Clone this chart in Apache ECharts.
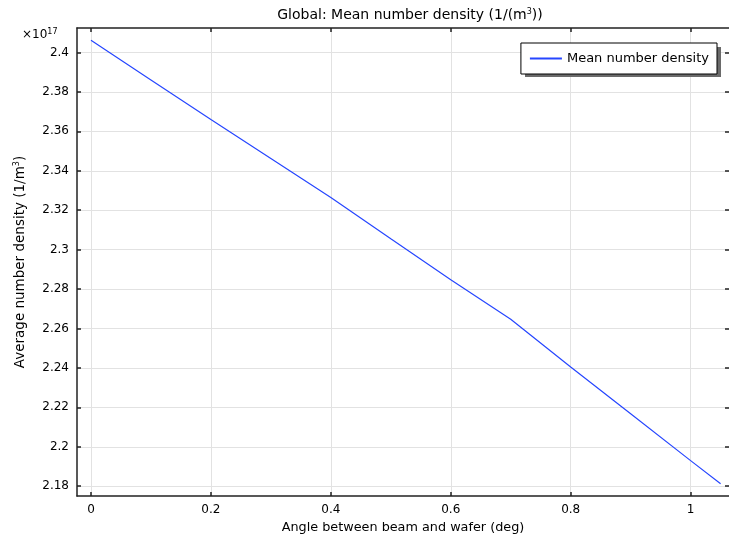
<!DOCTYPE html>
<html>
<head>
<meta charset="utf-8">
<script src="https://cdn.jsdelivr.net/npm/echarts@6/dist/echarts.min.js"></script>
<style>
  * { margin: 0; padding: 0; }
  body { background: #fff; }
  #chart { width: 729px; height: 539px; }
</style>
</head>
<body>
<div id="chart"></div>
<script>
// angle (deg) and mean number density (x1e17 1/m^3)
const angle = [0, 0.1, 0.2, 0.3, 0.4, 0.5, 0.6, 0.7, 0.8, 0.9, 1.0, 1.05]
const density = [2.4062, 2.386, 2.366, 2.3462, 2.3264, 2.3055, 2.2847, 2.2647, 2.2405, 2.2168, 2.193, 2.1813]
const xTicks = [0, 0.2, 0.4, 0.6, 0.8, 1]
const yTicks = [2.18, 2.2, 2.22, 2.24, 2.26, 2.28, 2.3, 2.32, 2.34, 2.36, 2.38, 2.4]

const font = 'DejaVu Sans'
const xMin = -0.0233
const xMax = 1.064
const yMin = 2.175
const yMax = 2.4124

const chart = echarts.init(document.getElementById('chart'))

const sup = { fontSize: 8, verticalAlign: 'top', padding: [0, 0, 6, 0], fontFamily: font }
const frame = { show: true, onZero: false, lineStyle: { color: '#222', width: 1.5 } }

chart.setOption({
  animation: false,
  textStyle: { fontFamily: font },
  title: {
    text: 'Global: Mean number density (1/(m{sup|3}))',
    left: 405,
    textAlign: 'center',
    top: 3,
    textStyle: {
      fontFamily: font,
      fontSize: 14,
      fontWeight: 'normal',
      color: '#000',
      rich: { sup: sup }
    }
  },
  legend: {
    right: 12,
    top: 43,
    orient: 'vertical',
    backgroundColor: '#fff',
    borderColor: '#000',
    borderWidth: 1,
    padding: [9, 8, 9, 9],
    itemWidth: 32,
    itemHeight: 2,
    itemGap: 5,
    icon: 'rect',
    textStyle: { fontFamily: font, fontSize: 13, color: '#000' }
  },
  // drop shadow behind the legend box
  graphic: [{
    type: 'rect',
    shape: { x: 525, y: 47, width: 196, height: 30 },
    style: { fill: '#6a6a6a' },
    z: 1
  }, {
    type: 'text',
    left: 22,
    top: 28,
    style: {
      text: '×10{sup|17}',
      fontFamily: font,
      fontSize: 12,
      fill: '#000',
      rich: { sup: sup }
    }
  }],
  grid: { left: 77, right: 0, top: 28, bottom: 36 },
  xAxis: [{
    type: 'value',
    min: xMin,
    max: xMax,
    name: 'Angle between beam and wafer (deg)',
    nameLocation: 'middle',
    nameGap: 17,
    nameTextStyle: { fontFamily: font, fontSize: 12.8, color: '#000' },
    axisLine: frame,
    axisTick: { show: true, inside: true, length: 4, customValues: xTicks, lineStyle: { color: '#222', width: 1.5 } },
    axisLabel: { customValues: xTicks, fontFamily: font, fontSize: 12, color: '#000', margin: 8 },
    splitLine: { show: true, lineStyle: { color: '#e2e2e2', width: 1 } }
  }, {
    type: 'value',
    position: 'top',
    min: xMin,
    max: xMax,
    axisLine: frame,
    axisTick: { show: true, inside: true, length: 4, customValues: xTicks, lineStyle: { color: '#222', width: 1.5 } },
    axisLabel: { show: false },
    splitLine: { show: false }
  }],
  yAxis: [{
    type: 'value',
    min: yMin,
    max: yMax,
    name: 'Average number density (1/m{sup|3})',
    nameLocation: 'middle',
    nameGap: 50,
    nameTextStyle: {
      fontFamily: font,
      fontSize: 13.5,
      color: '#000',
      rich: { sup: sup }
    },
    axisLine: frame,
    axisTick: { show: true, inside: true, length: 4, customValues: yTicks, lineStyle: { color: '#222', width: 1.5 } },
    axisLabel: { customValues: yTicks, fontFamily: font, fontSize: 12, color: '#000', margin: 8 },
    splitLine: { show: true, lineStyle: { color: '#e2e2e2', width: 1 } }
  }, {
    type: 'value',
    position: 'right',
    min: yMin,
    max: yMax,
    axisLine: { show: false, onZero: false },
    axisTick: { show: true, inside: true, length: 4, customValues: yTicks, lineStyle: { color: '#222', width: 1.5 } },
    axisLabel: { show: false },
    splitLine: { show: false }
  }],
  series: [{
    name: 'Mean number density',
    type: 'line',
    xAxisIndex: 0,
    yAxisIndex: 0,
    showSymbol: false,
    color: '#2646ff',
    lineStyle: { color: '#2646ff', width: 1.2 },
    data: angle.map((a, i) => [a, density[i]])
  }]
})
</script>
</body>
</html>
